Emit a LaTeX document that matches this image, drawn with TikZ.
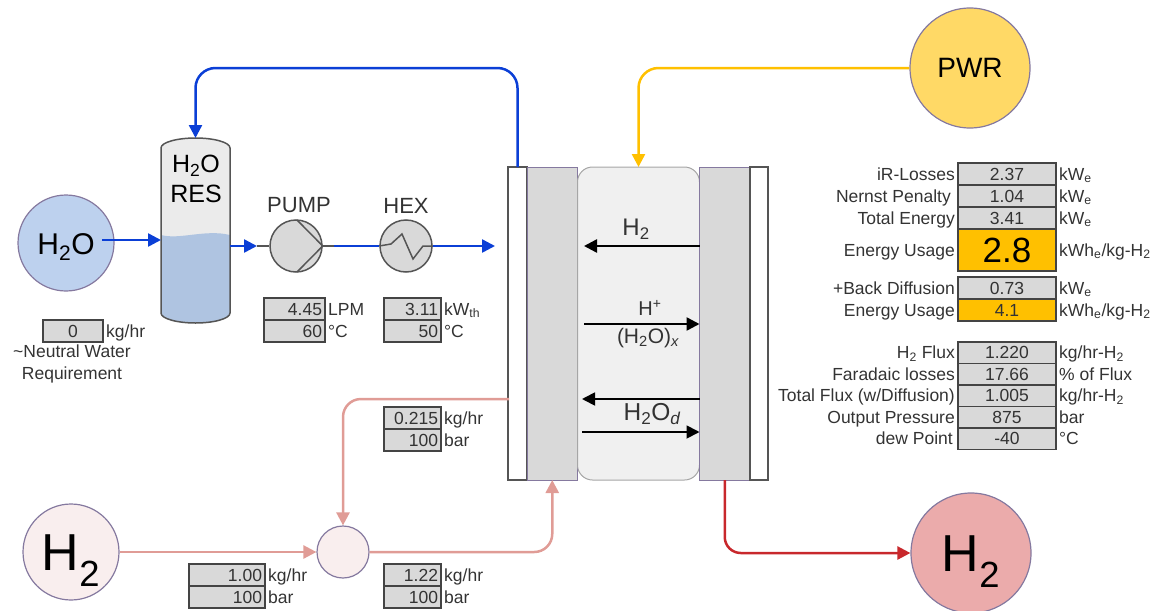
\documentclass[tikz,border=0pt]{standalone}
\usepackage{fontspec}
\setmainfont{Liberation Sans}
\usepackage{xcolor}
\usetikzlibrary{arrows.meta, positioning}
\definecolor{bluefeed}{HTML}{0B3FD6}
\definecolor{pinkline}{HTML}{E09C96}
\definecolor{redline}{HTML}{C8282C}
\definecolor{yellowline}{HTML}{FFC000}
\definecolor{rimline}{HTML}{85799F}
\definecolor{darkline}{HTML}{555555}
\definecolor{cellgrey}{HTML}{D9D9D9}
\definecolor{labeltext}{HTML}{333333}
\definecolor{waterfill}{HTML}{BDD1EE}
\definecolor{tankwater}{HTML}{AFC4E1}
\definecolor{tankair}{HTML}{EBEBEB}
\definecolor{pwrfill}{HTML}{FFD966}
\definecolor{lightpink}{HTML}{F9EEEE}
\definecolor{deeppink}{HTML}{EBABAB}
\definecolor{membranefill}{HTML}{F0F0F0}
\newcommand{\fsize}[1]{\fontsize{#1}{#1}\selectfont}

\begin{document}
\begin{tikzpicture}[
  x=1pt, y=-1pt,
  node distance=0pt,
  stream/.style={circle, draw=rimline, line width=1.2pt, inner sep=0pt, text=black},
  bigtext/.style={font=\fsize{52}, text height=36pt, text depth=0pt},
  unitop/.style={circle, draw=darkline, line width=1.5pt, fill=cellgrey, minimum size=52pt, inner sep=0pt},
  plate/.style={rectangle, draw=darkline, line width=1.5pt, fill=white, minimum width=19pt,
                minimum height=313pt, outer sep=0pt, inner sep=0pt},
  electrode/.style={rectangle, draw=rimline, line width=1pt, fill=cellgrey, minimum width=50.5pt,
                    minimum height=313pt, outer sep=0pt, inner sep=0pt},
  cell/.style={rectangle, draw=darkline!80!black, line width=1.4pt, fill=cellgrey, text=labeltext,
               minimum height=22pt, inner xsep=3pt, inner ysep=0pt, outer sep=0pt,
               font=\fsize{17.5}, text height=13pt, text depth=1pt},
  numcell/.style={cell, text width=#1, align=right},
  midcell/.style={cell, text width=92pt, align=center},
  fluxcell/.style={midcell, minimum height=21.5pt},
  unit/.style={inner xsep=1pt, inner ysep=0pt, text=labeltext, font=\fsize{17.5}, text height=13pt, text depth=1pt},
  rowlabel/.style={unit},
  title/.style={inner sep=0pt, text=labeltext, font=\fsize{#1}},
  bluearr/.style={-{Triangle[length=13pt,width=13pt]}, bluefeed, line width=2.5pt},
  pinkarr/.style={-{Triangle[length=13pt,width=13pt]}, pinkline, line width=2.5pt, rounded corners=18pt},
  blackarr/.style={-{Triangle[length=13pt,width=13pt]}, black, line width=#1}
]
  \useasboundingbox (0,0) rectangle (1155,610);

  \node[stream, fill=waterfill, minimum size=96pt, font=\fsize{30}, text height=22pt, text depth=0pt] (h2ofeed) at (66,243) {H\textsubscript{2}O};
  \node[stream, fill=pwrfill, minimum size=120pt, font=\fsize{28}] (pwr) at (970,68) {PWR};
  \node[stream, fill=lightpink, minimum size=96pt, bigtext] (h2supply) at (71,552) {H\textsubscript{2}};
  \node[stream, fill=lightpink, minimum size=52pt] (mixer) at (343,552) {};
  \node[stream, fill=deeppink, minimum size=120pt, bigtext] (h2out) at (971,553) {H\textsubscript{2}};

  \node[minimum width=69pt, minimum height=185pt, inner sep=0pt, outer sep=0pt] (res) at (195.5,230.5) {};
  \fill[tankair] (161,148) .. controls (161,142) and (178,138) .. (195.5,138)
    .. controls (213,138) and (230,142) .. (230,148) -- (230,313)
    .. controls (230,319) and (213,323) .. (195.5,323)
    .. controls (178,323) and (161,319) .. (161,313) -- cycle;
  \fill[tankwater] (161,235) .. controls (180,240) and (205,229) .. (230,235) -- (230,313)
    .. controls (230,319) and (213,323) .. (195.5,323)
    .. controls (178,323) and (161,319) .. (161,313) -- cycle;
  \draw[darkline, line width=1.5pt] (161,148) .. controls (161,142) and (178,138) .. (195.5,138)
    .. controls (213,138) and (230,142) .. (230,148) -- (230,313)
    .. controls (230,319) and (213,323) .. (195.5,323)
    .. controls (178,323) and (161,319) .. (161,313) -- cycle;
  \node[font=\fsize{25}, align=center, inner sep=0pt] (restext) at (196,179) {H\textsubscript{2}O\\[5pt]RES};

  \node[unitop] (pump) at (296,246) {};
  \node[unitop] (hex) at (406,246) {};
  \draw[darkline, line width=1.5pt] (297,220) -- (pump.east) -- (297,272);
  \draw[darkline, line width=1.5pt] (hex.west) -- (391,244) -- (402,234) -- (413,259) -- (423,246) -- (hex.east);
  \node[title=22, above=6pt of pump, xshift=3pt] (pumptext) {PUMP};
  \node[title=22, above=6pt of hex] (hextext) {HEX};

  \node[plate] (anodeplate) at (517.5,323.5) {};
  \node[electrode, right=of anodeplate] (anode) {};
  \node[rectangle, rounded corners=15pt, draw=black!35, line width=1pt, fill=membranefill, minimum width=122pt,
        minimum height=313pt, outer sep=0pt, inner sep=0pt, right=of anode] (membrane) {};
  \node[electrode, right=of membrane] (cathode) {};
  \node[plate, minimum width=18pt, right=of cathode] (cathodeplate) {};

  \coordinate (feedend) at (102,240);
  \coordinate (pumpin) at (257,246);
  \coordinate (pumpout) at (334,246);
  \coordinate (stackin) at (495,246);
  \coordinate (toprun) at (350,68);
  \coordinate (recycle) at (509,399);

  \draw[bluearr] (feedend) -- (feedend -| res.west);
  \draw[bluearr] (pumpin -| res.east) -- (pumpin);
  \draw[darkline, line width=1.5pt] (pumpin) -- (pump.west);
  \draw[darkline, line width=1.5pt] (pump.east) -- (pumpout);
  \draw[bluefeed, line width=2.5pt] (pumpout) -- (hex.west);
  \draw[bluearr] (hex.east) -- (stackin);
  \draw[bluearr, rounded corners=20pt] (anodeplate.north) |- (toprun) -| (res.north);
  \draw[-{Triangle[length=13pt,width=13pt]}, yellowline, line width=2.5pt, rounded corners=20pt] (pwr.west) -| (membrane.north);
  \draw[pinkarr] (h2supply.east) -- (mixer.west);
  \draw[pinkarr] (recycle) -| (mixer.north);
  \draw[pinkarr] (mixer.east) -| (anode.south);
  \draw[-{Triangle[length=13pt,width=13pt]}, redline, line width=2.5pt, rounded corners=16pt] (cathode.south) |- (h2out.west);

  \coordinate (h2end) at (584,246);
  \coordinate (protonstart) at (584,324);
  \coordinate (backend) at (582,399);
  \coordinate (dragstart) at (582,432);
  \draw[blackarr=2.5pt] (h2end -| cathode.west) -- (h2end);
  \draw[blackarr=2.5pt] (protonstart) -- (protonstart -| cathode.west);
  \draw[blackarr=1.8pt] (backend -| cathode.west) -- (backend);
  \draw[blackarr=1.8pt] (dragstart) -- (dragstart -| cathode.west);
  \node[title=24] (h2text) at (636,229) {H\textsubscript{2}};
  \node[title=20] (protontext) at (650,308) {H\textsuperscript{+}};
  \node[title=21] (watertext) at (648,338) {(H\textsubscript{2}O)\textsubscript{\itshape x}};
  \node[title=24.5] (difftext) at (652,414) {H\textsubscript{2}O\textsubscript{\itshape d}};

  \node[cell, text width=54pt, align=center, anchor=north west] (makeup) at (43,320) {0};
  \node[unit, right=2pt of makeup] (makeupunit) {kg/hr};
  \node[title=17.5, align=center] (makeuptext) at (72,364) {\textasciitilde Neutral Water\\[4pt]Requirement};

  \node[numcell=55pt, anchor=north west] (flowlpm) at (264,298) {4.45};
  \node[numcell=55pt, below=of flowlpm] (pumptemp) {60};
  \node[unit, right=2pt of flowlpm] (flowlpmunit) {LPM};
  \node[unit, right=2pt of pumptemp] (pumptempunit) {°C};
  \node[numcell=51pt, anchor=north west] (heatkw) at (384,298) {3.11};
  \node[numcell=51pt, below=of heatkw] (hextemp) {50};
  \node[unit, right=2pt of heatkw] (heatkwunit) {kW\textsubscript{th}};
  \node[unit, right=2pt of hextemp] (hextempunit) {°C};

  \node[numcell=51pt, anchor=north west] (recycleflow) at (384,407) {0.215};
  \node[numcell=51pt, below=of recycleflow] (recyclebar) {100};
  \node[unit, right=2pt of recycleflow] (recycleflowunit) {kg/hr};
  \node[unit, right=2pt of recyclebar] (recyclebarunit) {bar};
  \node[numcell=70pt, anchor=north west] (supplyflow) at (189,564) {1.00};
  \node[numcell=70pt, below=of supplyflow] (supplybar) {100};
  \node[unit, right=2pt of supplyflow] (supplyflowunit) {kg/hr};
  \node[unit, right=2pt of supplybar] (supplybarunit) {bar};
  \node[numcell=51pt, anchor=north west] (mixedflow) at (384,564) {1.22};
  \node[numcell=51pt, below=of mixedflow] (mixedbar) {100};
  \node[unit, right=2pt of mixedflow] (mixedflowunit) {kg/hr};
  \node[unit, right=2pt of mixedbar] (mixedbarunit) {bar};

  \node[midcell, anchor=north west] (irloss) at (958,163) {2.37};
  \node[midcell, below=of irloss] (nernst) {1.04};
  \node[midcell, below=of nernst] (totalenergy) {3.41};
  \node[midcell, below=of totalenergy, fill=yellowline, minimum height=42pt, text=black, font=\fsize{35},
        text height=25pt, text depth=0pt] (usage) {2.8};
  \node[midcell, below=6pt of usage] (backdiff) {0.73};
  \node[midcell, below=of backdiff, fill=yellowline] (usageback) {4.1};
  \node[fluxcell, below=21pt of usageback] (h2flux) {1.220};
  \node[fluxcell, below=of h2flux] (faradaic) {17.66};
  \node[fluxcell, below=of faradaic] (totalflux) {1.005};
  \node[fluxcell, below=of totalflux] (outpress) {875};
  \node[fluxcell, below=of outpress] (dewpoint) {-40};

  \node[rowlabel, left=2pt of irloss] (irlosslabel) {iR-Losses};
  \node[rowlabel, left=6pt of nernst] (nernstlabel) {Nernst Penalty};
  \node[rowlabel, left=2pt of totalenergy] (totalenergylabel) {Total Energy};
  \node[rowlabel, left=2pt of usage] (usagelabel) {Energy Usage};
  \node[rowlabel, left=2pt of backdiff] (backdifflabel) {+Back Diffusion};
  \node[rowlabel, left=2pt of usageback] (usagebacklabel) {Energy Usage};
  \node[rowlabel, left=2pt of h2flux] (h2fluxlabel) {H\textsubscript{2} Flux};
  \node[rowlabel, left=2pt of faradaic] (faradaiclabel) {Faradaic losses};
  \node[rowlabel, left=2pt of totalflux] (totalfluxlabel) {Total Flux (w/Diffusion)};
  \node[rowlabel, left=2pt of outpress] (outpresslabel) {Output Pressure};
  \node[rowlabel, left=4pt of dewpoint] (dewpointlabel) {dew Point};

  \node[unit, right=2pt of irloss] (irlossunit) {kW\textsubscript{e}};
  \node[unit, right=2pt of nernst] (nernstunit) {kW\textsubscript{e}};
  \node[unit, right=2pt of totalenergy] (totalenergyunit) {kW\textsubscript{e}};
  \node[unit, right=2pt of usage] (usageunit) {kWh\textsubscript{e}/kg-H\textsubscript{2}};
  \node[unit, right=2pt of backdiff] (backdiffunit) {kW\textsubscript{e}};
  \node[unit, right=2pt of usageback] (usagebackunit) {kWh\textsubscript{e}/kg-H\textsubscript{2}};
  \node[unit, right=2pt of h2flux] (h2fluxunit) {kg/hr-H\textsubscript{2}};
  \node[unit, right=2pt of faradaic] (faradaicunit) {\% of Flux};
  \node[unit, right=2pt of totalflux] (totalfluxunit) {kg/hr-H\textsubscript{2}};
  \node[unit, right=2pt of outpress] (outpressunit) {bar};
  \node[unit, right=2pt of dewpoint] (dewpointunit) {°C};
\end{tikzpicture}
\end{document}
